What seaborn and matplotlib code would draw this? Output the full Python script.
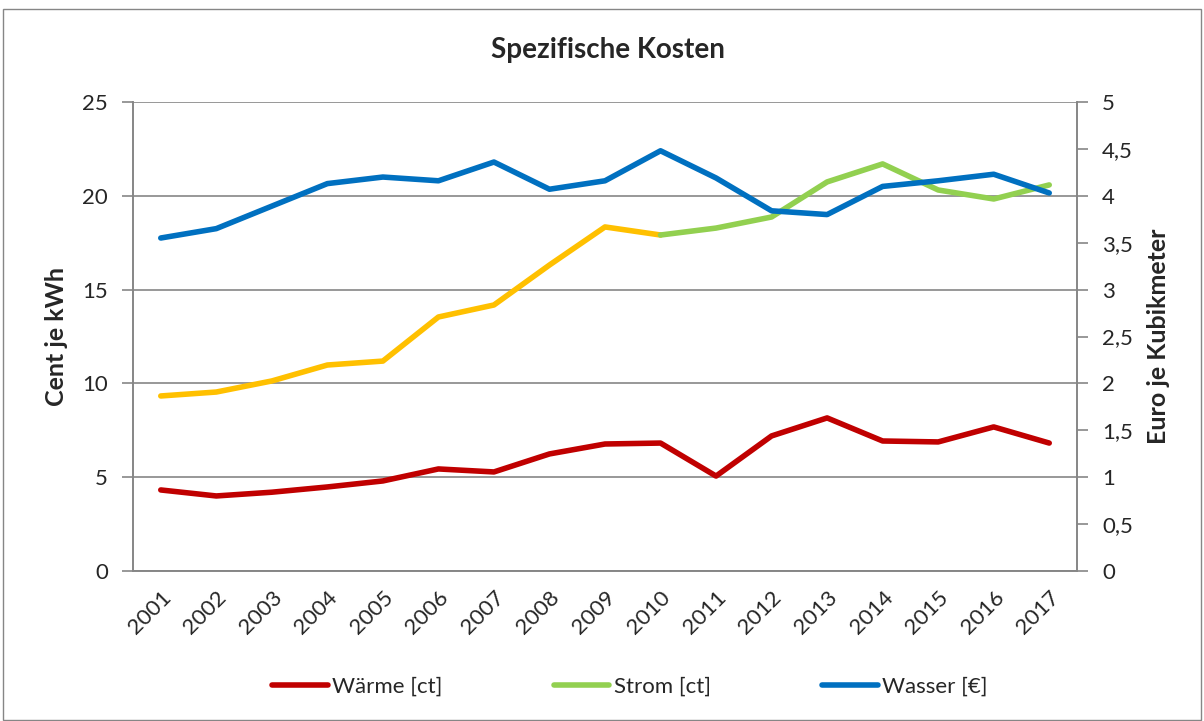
import matplotlib
matplotlib.use("Agg")
import matplotlib.pyplot as plt
import seaborn as sns
import numpy as np
from matplotlib.patches import Rectangle
from matplotlib.ticker import FuncFormatter, MultipleLocator

# values
years = list(range(2001, 2018))
waerme = [4.32, 4.00, 4.20, 4.48, 4.80, 5.44, 5.28, 6.24, 6.77, 6.82,
          5.06, 7.20, 8.16, 6.93, 6.88, 7.68, 6.82]
strom = [9.33, 9.54, 10.13, 10.98, 11.19, 13.54, 14.18, 16.31, 18.34, 17.91,
         18.28, 18.87, 20.74, 21.70, 20.31, 19.83, 20.58]
wasser = [3.55, 3.65, 3.89, 4.13, 4.20, 4.16, 4.36, 4.07, 4.16, 4.48,
          4.19, 3.84, 3.80, 4.10, 4.16, 4.23, 4.03]

sns.set_style("white")
plt.rcParams['font.family'] = ['Lato', 'DejaVu Sans']

grey = "#868686"
lw = 4

fig = plt.figure(figsize=(12.04, 7.21), dpi=100)
ax = fig.add_axes([133 / 1204, 1 - 571 / 721, 944 / 1204, 469 / 721])
ax2 = ax.twinx()

# chart border
fig.patches.append(Rectangle((3 / 1204, 1 / 721), 1198 / 1204, 711 / 721,
                             transform=fig.transFigure, fill=False,
                             edgecolor=grey, lw=1))

sns.lineplot(x=years, y=waerme, ax=ax, color="#C00000", lw=lw,
             solid_capstyle="round", label="Wärme [ct]", legend=False)
sns.lineplot(x=years[:10], y=strom[:10], ax=ax, color="#FFC000", lw=lw,
             solid_capstyle="round", legend=False)
sns.lineplot(x=years[9:], y=strom[9:], ax=ax, color="#92D050", lw=lw,
             solid_capstyle="round", label="Strom [ct]", legend=False)
sns.lineplot(x=years, y=wasser, ax=ax2, color="#0070C0", lw=lw,
             solid_capstyle="round", label="Wasser [€]", legend=False)

ax.set_xlim(years[0] - 0.5, years[-1] + 0.5)
ax.set_ylim(0, 25)
ax2.set_ylim(0, 5)
ax.yaxis.set_major_locator(MultipleLocator(5))
ax2.yaxis.set_major_locator(MultipleLocator(0.5))
ax2.yaxis.set_major_formatter(FuncFormatter(
    lambda v, p: f"{v:g}".replace(".", ",")))

ax.set_xticks(years)
ax.set_xticklabels([str(y) for y in years], rotation=45, ha="right",
                   rotation_mode="anchor", fontsize=16)
ax.set_xticks(np.arange(years[0] - 0.5, years[-1] + 1, 1), minor=True)
ax.tick_params(axis="x", which="major", length=0, pad=12)
ax.tick_params(axis="x", which="minor", length=7, color=grey, width=1.2)
ax.tick_params(axis="y", length=8, color=grey, width=1.2, labelsize=16, pad=10)
ax2.tick_params(axis="y", length=8, color=grey, width=1.2, labelsize=16, pad=10)

ax.grid(axis="y", color=grey, lw=1.2)
for a in (ax, ax2):
    for s in a.spines.values():
        s.set_visible(False)
    for s in ("left", "bottom", "right"):
        a.spines[s].set_visible(True)
        a.spines[s].set_color(grey)
        a.spines[s].set_linewidth(1.2)

ax.set_ylabel("Cent je kWh", fontsize=18, fontweight="bold", labelpad=10)
ax2.set_ylabel("Euro je Kubikmeter", fontsize=18, fontweight="bold", labelpad=10)
fig.text(608 / 1204, 1 - 50 / 721, "Spezifische Kosten", ha="center",
         va="center", fontsize=20, fontweight="bold")

h1, l1 = ax.get_legend_handles_labels()
h2, l2 = ax2.get_legend_handles_labels()
fig.legend(h1 + h2, l1 + l2, loc="center", bbox_to_anchor=(630 / 1204, 1 - 687 / 721),
           ncol=3, frameon=False, fontsize=16, handlelength=2.5,
           handletextpad=0.2, columnspacing=5)

fig.savefig("out.png", dpi=100)
